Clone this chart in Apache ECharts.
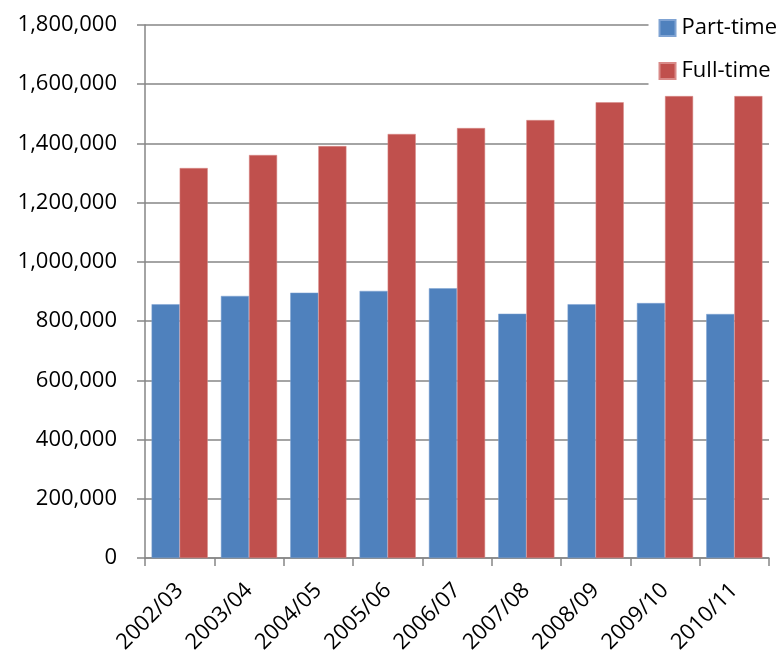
<!DOCTYPE html>
<html><head><meta charset="utf-8">
<script src="https://cdn.jsdelivr.net/npm/echarts@6/dist/echarts.min.js"></script>
<style>html,body{margin:0;padding:0;background:#fff}#c{width:779px;height:657px}</style>
</head><body><div id="c"></div>
<script>
var categories = ['2002/03','2003/04','2004/05','2005/06','2006/07','2007/08','2008/09','2009/10','2010/11'];
var partTime = [857000, 885000, 896000, 902000, 911000, 825000, 857000, 861000, 824000];
var fullTime = [1317000, 1361000, 1391000, 1432000, 1452000, 1479000, 1539000, 1560000, 1560000];
var yTicks = {min: 0, max: 1800000, interval: 200000};

var font = '"Open Sans", sans-serif';
var chart = echarts.init(document.getElementById('c'));
chart.setOption({
  animation: false,
  backgroundColor: '#fff',
  grid: {left: 145, right: 10, top: 25, bottom: 99, containLabel: false},
  legend: {
    orient: 'vertical', right: 0, top: 14, z: 10,
    backgroundColor: '#fff', padding: [2, 2, 2, 10],
    itemWidth: 16, itemHeight: 16, itemGap: 19,
    icon: 'rect',
    textStyle: {fontFamily: font, fontSize: 22, lineHeight: 24, color: '#000', padding: [0, 0, 0, 1]},
    data: ['Part-time', 'Full-time']
  },
  xAxis: {
    type: 'category', data: categories,
    axisLine: {lineStyle: {color: '#868686', width: 1.5}},
    axisTick: {show: true, length: 8, lineStyle: {color: '#868686', width: 1.5}},
    axisLabel: {rotate: 45, fontFamily: font, fontSize: 22, color: '#000', margin: 29, interval: 0}
  },
  yAxis: {
    type: 'value', min: yTicks.min, max: yTicks.max, interval: yTicks.interval,
    axisLine: {show: true, lineStyle: {color: '#868686', width: 1.5}},
    axisTick: {show: true, length: 8, lineStyle: {color: '#868686', width: 1.5}},
    splitLine: {lineStyle: {color: '#868686', width: 1.5}},
    axisLabel: {fontFamily: font, fontSize: 22, color: '#000', margin: 28,
      formatter: function (v) { return v.toLocaleString('en-US'); }}
  },
  series: [
    {name: 'Part-time', type: 'bar', data: partTime, barGap: '0%', barCategoryGap: '19%',
     itemStyle: {color: '#4F81BD', borderColor: '#7FA3D3', borderWidth: 0.5}},
    {name: 'Full-time', type: 'bar', data: fullTime, barGap: '0%', barCategoryGap: '19%',
     itemStyle: {color: '#C0504D', borderColor: '#D98A88', borderWidth: 0.5}}
  ]
});
</script></body></html>
